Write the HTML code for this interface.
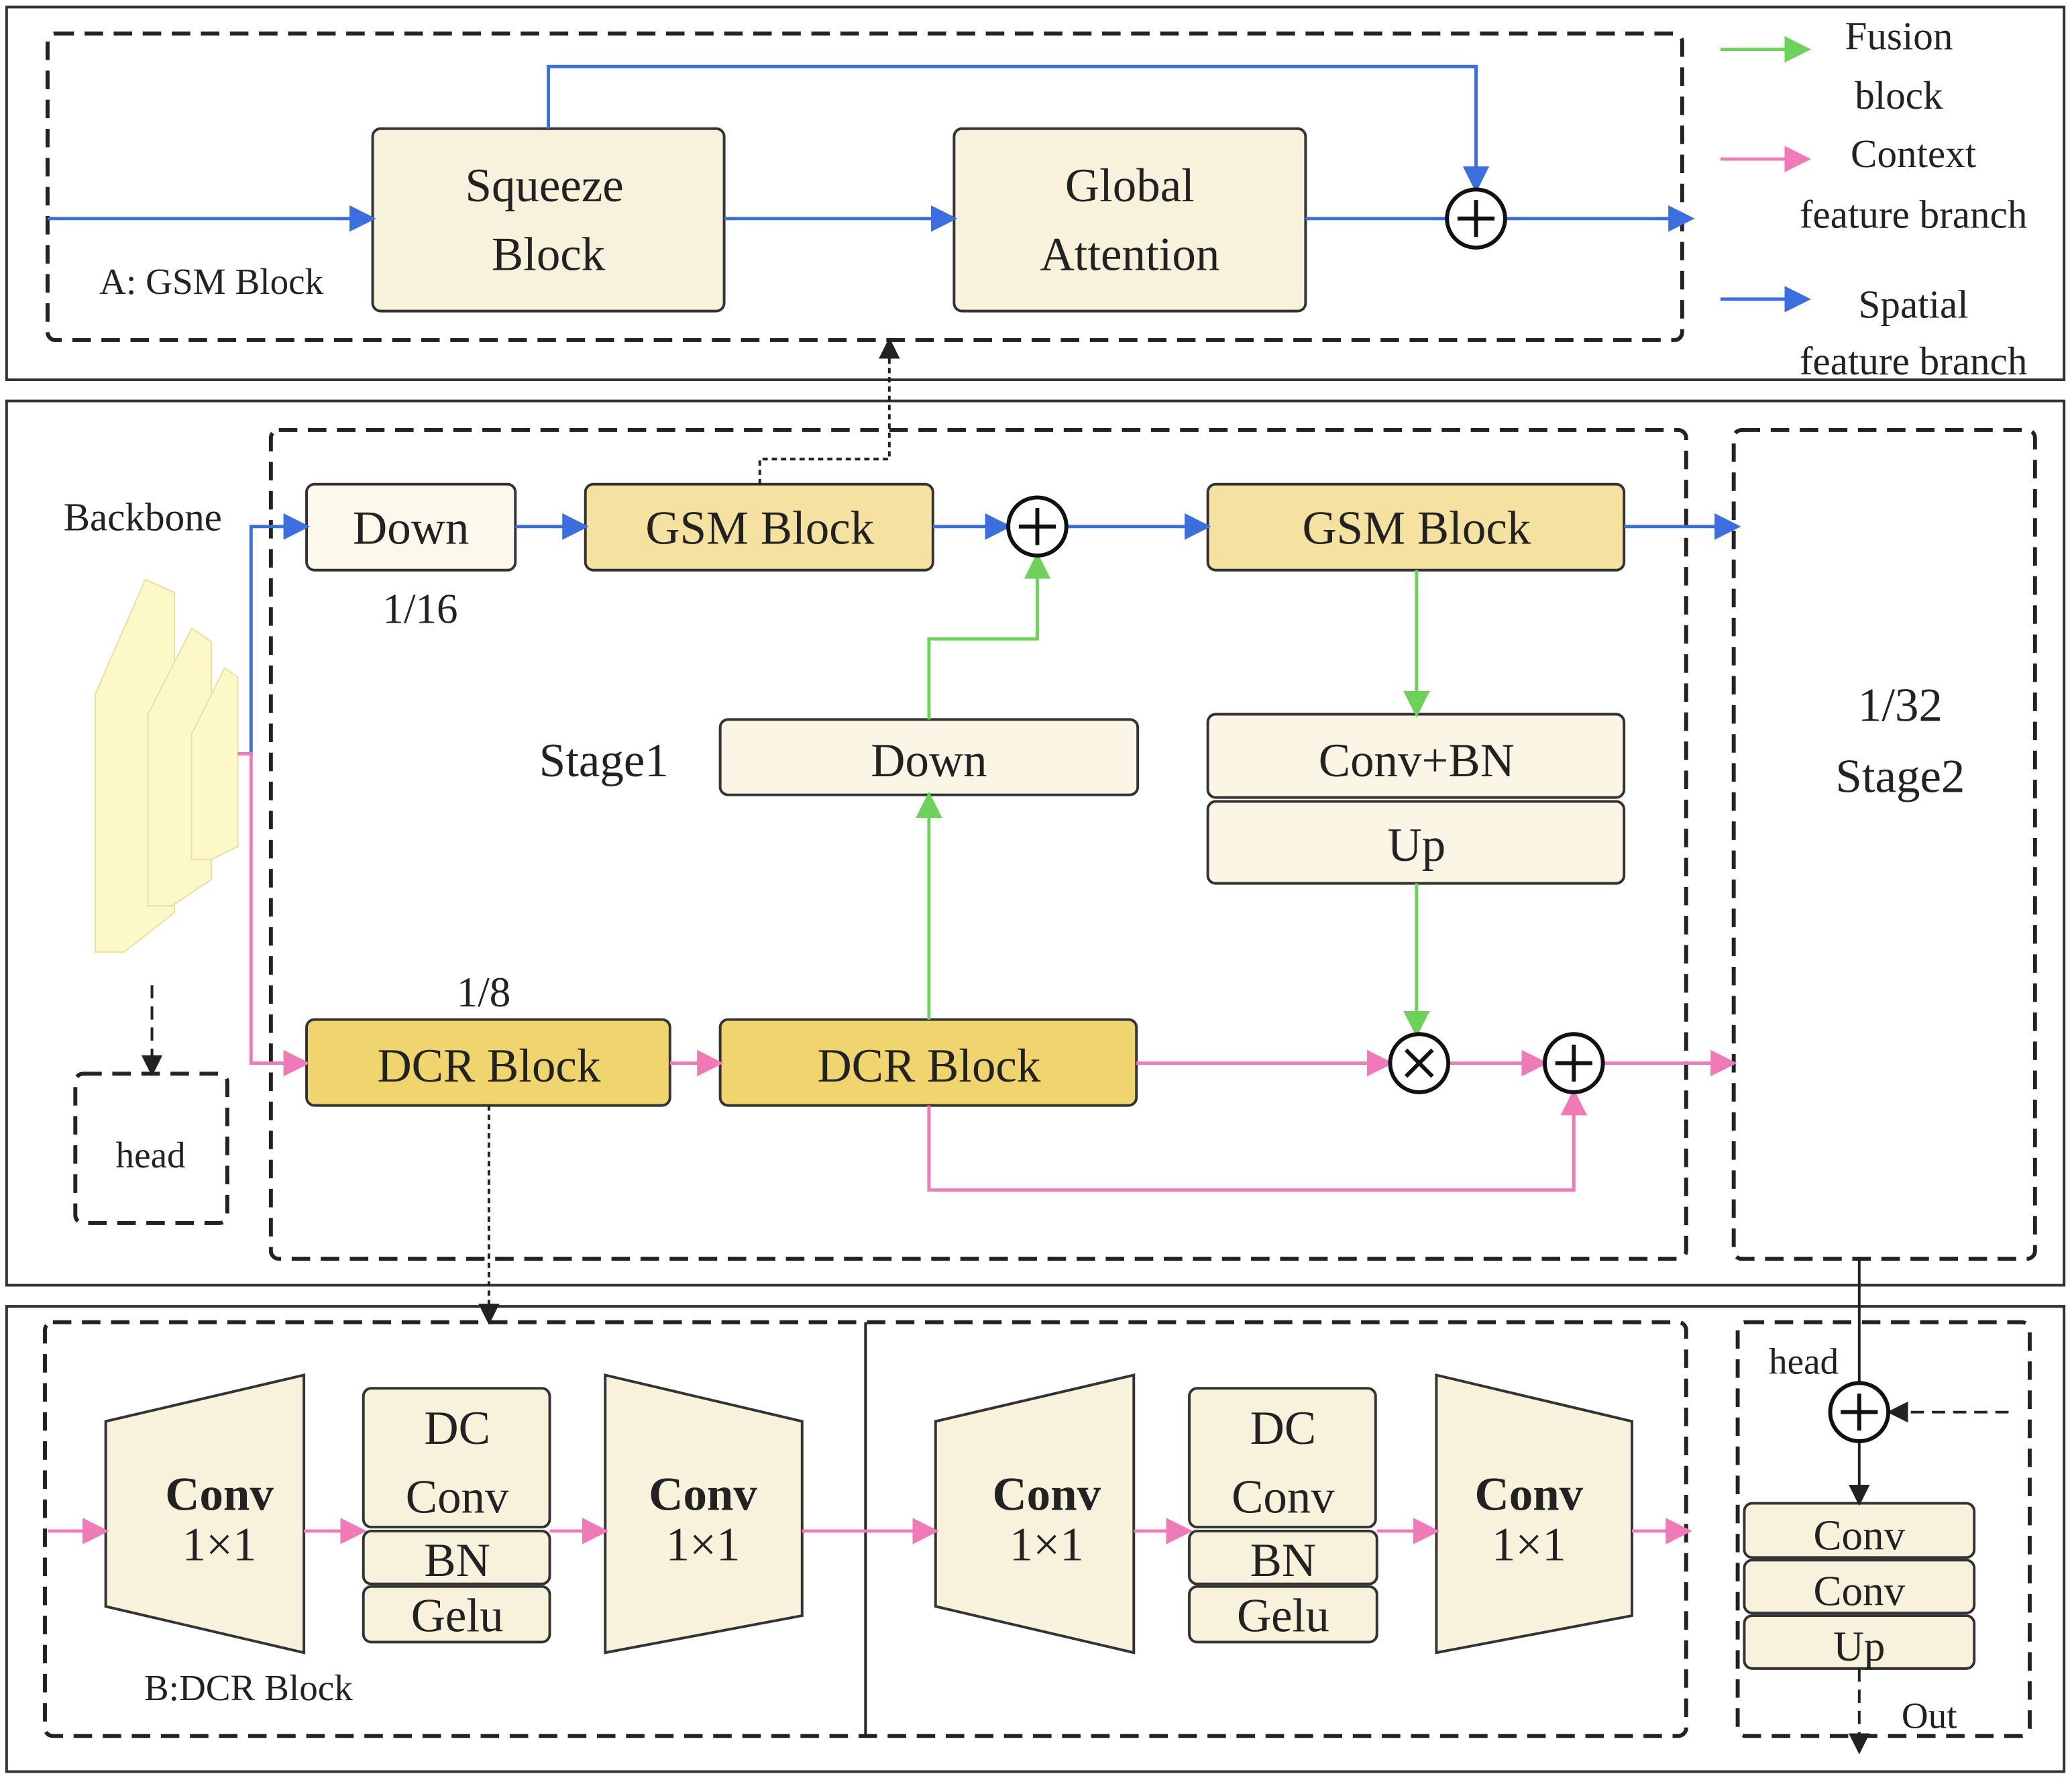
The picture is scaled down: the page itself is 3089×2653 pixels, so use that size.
<!DOCTYPE html>
<html><head><meta charset="utf-8"><style>html,body{margin:0;padding:0;background:#fff}svg{display:block}</style></head><body>
<svg width="3089" height="2653" viewBox="0 0 1568 1346" xmlns="http://www.w3.org/2000/svg" font-family="Liberation Serif, serif" fill="none">
<defs>
<marker id="ab" markerWidth="8" markerHeight="8" refX="7" refY="4" orient="auto" viewBox="0 0 8 8"><path d="M0,0 L8,4 L0,8z" fill="#3b6fe0"/></marker>
<marker id="ap" markerWidth="8" markerHeight="8" refX="7" refY="4" orient="auto" viewBox="0 0 8 8"><path d="M0,0 L8,4 L0,8z" fill="#f07ab8"/></marker>
<marker id="ag" markerWidth="8" markerHeight="8" refX="7" refY="4" orient="auto" viewBox="0 0 8 8"><path d="M0,0 L8,4 L0,8z" fill="#6cd25a"/></marker>
<marker id="ak" markerWidth="8" markerHeight="8" refX="7" refY="4" orient="auto" viewBox="0 0 8 8"><path d="M0,0 L8,4 L0,8z" fill="#222"/></marker>
</defs>
<g stroke="#333" stroke-width="2">
<rect x="5" y="5" width="1557" height="282"/>
<rect x="5" y="303" width="1557" height="669"/>
<rect x="5" y="988" width="1557" height="352"/>
</g>
<g stroke="#222" stroke-width="3" stroke-dasharray="14,8">
<rect x="36" y="25" width="1237" height="232" rx="6"/>
<rect x="205" y="325" width="1071" height="627" rx="6"/>
<rect x="1312" y="325" width="228" height="627" rx="6"/>
<rect x="57" y="812" width="115" height="113" rx="6"/>
<rect x="34" y="1000" width="1242" height="313" rx="6"/>
<rect x="1315" y="1000" width="221" height="313" rx="6"/>
</g>
<line x1="655" y1="1000" x2="655" y2="1313" stroke="#222" stroke-width="2"/>
<g stroke="#333" stroke-width="2">
<rect x="282" y="97" width="266" height="138" rx="6" fill="#f8f2dc"/>
<rect x="722" y="97" width="266" height="138" rx="6" fill="#f8f2dc"/>
<rect x="232" y="366" width="158" height="65" rx="6" fill="#fcf8ec"/>
<rect x="443" y="366" width="263" height="65" rx="6" fill="#f5e1a0"/>
<rect x="914" y="366" width="315" height="65" rx="6" fill="#f5e1a0"/>
<rect x="545" y="544" width="316" height="57" rx="6" fill="#faf5e4"/>
<rect x="914" y="540" width="315" height="63" rx="6" fill="#faf5e4"/>
<rect x="914" y="606" width="315" height="62" rx="6" fill="#faf5e4"/>
<rect x="232" y="771" width="275" height="65" rx="6" fill="#f0d46e"/>
<rect x="545" y="771" width="315" height="65" rx="6" fill="#f0d46e"/>
<path d="M80,1075 L230,1040 L230,1250 L80,1215Z" fill="#f8f2dc"/>
<path d="M458,1040 L607,1075 L607,1222 L458,1250Z" fill="#f8f2dc"/>
<path d="M708,1075 L858,1040 L858,1250 L708,1215Z" fill="#f8f2dc"/>
<path d="M1087,1040 L1235,1075 L1235,1222 L1087,1250Z" fill="#f8f2dc"/>
<rect x="275" y="1050" width="141" height="105" rx="6" fill="#f8f2dc"/>
<rect x="275" y="1158" width="141" height="40" rx="6" fill="#f8f2dc"/>
<rect x="275" y="1200" width="141" height="42" rx="6" fill="#f8f2dc"/>
<rect x="900" y="1050" width="141" height="105" rx="6" fill="#f8f2dc"/>
<rect x="900" y="1158" width="142" height="40" rx="6" fill="#f8f2dc"/>
<rect x="900" y="1200" width="142" height="42" rx="6" fill="#f8f2dc"/>
<rect x="1320" y="1137" width="174" height="41" rx="6" fill="#f8f2dc"/>
<rect x="1320" y="1180" width="174" height="40" rx="6" fill="#f8f2dc"/>
<rect x="1320" y="1222" width="174" height="40" rx="6" fill="#f8f2dc"/>
</g>
<g fill="#fdf8c8" stroke="#e8e0a0" stroke-width="1">
<path d="M72,525 L110,438 L132,448 L132,690 L94,720 L72,720Z"/>
<path d="M112,540 L145,475 L160,485 L160,665 L130,685 L112,685Z"/>
<path d="M145,555 L170,505 L180,512 L180,640 L160,650 L145,650Z"/>
</g>
<g stroke="#3b6fe0" stroke-width="2.5" marker-end="url(#ab)">
<line x1="36" y1="165" x2="282" y2="165"/>
<line x1="548" y1="165" x2="722" y2="165"/>
<line x1="988" y1="165" x2="1095" y2="165" marker-end="none"/>
<line x1="1139" y1="165" x2="1280" y2="165"/>
<polyline points="415,97 415,50 1117,50 1117,143"/>
<polyline points="180,570 190,570 190,398 232,398"/>
<line x1="390" y1="398" x2="443" y2="398"/>
<line x1="706" y1="398" x2="763" y2="398"/>
<line x1="807" y1="398" x2="914" y2="398"/>
<line x1="1229" y1="398" x2="1315" y2="398"/>
<line x1="1302" y1="226" x2="1368" y2="226"/>
</g>
<g stroke="#f07ab8" stroke-width="2.5" marker-end="url(#ap)">
<polyline points="180,570 190,570 190,804 232,804"/>
<line x1="507" y1="804" x2="545" y2="804"/>
<line x1="860" y1="804" x2="1052" y2="804"/>
<line x1="1096" y1="804" x2="1169" y2="804"/>
<line x1="1213" y1="804" x2="1312" y2="804"/>
<polyline points="703,836 703,900 1191,900 1191,826"/>
<line x1="1302" y1="120" x2="1368" y2="120"/>
<line x1="36" y1="1158" x2="80" y2="1158"/>
<line x1="230" y1="1158" x2="275" y2="1158"/>
<line x1="416" y1="1158" x2="458" y2="1158"/>
<line x1="607" y1="1158" x2="708" y2="1158"/>
<line x1="858" y1="1158" x2="900" y2="1158"/>
<line x1="1042" y1="1158" x2="1087" y2="1158"/>
<line x1="1235" y1="1158" x2="1278" y2="1158"/>
</g>
<g stroke="#6cd25a" stroke-width="2.5" marker-end="url(#ag)">
<line x1="703" y1="771" x2="703" y2="601"/>
<polyline points="703,544 703,483 785,483 785,420"/>
<line x1="1072" y1="431" x2="1072" y2="540"/>
<line x1="1072" y1="668" x2="1072" y2="782"/>
<line x1="1302" y1="37" x2="1368" y2="37"/>
</g>
<g stroke="#222" stroke-width="2" marker-end="url(#ak)">
<polyline points="575,366 575,347 673,347 673,257" stroke-dasharray="4,3"/>
<polyline points="370,836 370,1000" stroke-dasharray="4,3"/>
<line x1="115" y1="745" x2="115" y2="812" stroke-dasharray="10,6"/>
<line x1="1520" y1="1068" x2="1430" y2="1068" stroke-dasharray="10,6"/>
<line x1="1407" y1="952" x2="1407" y2="1046" marker-end="none"/>
<line x1="1407" y1="1090" x2="1407" y2="1137"/>
<line x1="1407" y1="1262" x2="1407" y2="1325" stroke-dasharray="10,6"/>
</g>
<g stroke="#111" stroke-width="3" fill="#fff">
<circle cx="1117" cy="165" r="22"/><circle cx="785" cy="398" r="22"/>
<circle cx="1074" cy="804" r="22"/><circle cx="1191" cy="804" r="22"/>
<circle cx="1407" cy="1068" r="22"/>
</g>
<g stroke="#111" stroke-width="3">
<path d="M1103,165h28M1117,151v28M771,398h28M785,384v28M1177,804h28M1191,790v28M1393,1068h28M1407,1054v28M1064,794l20,20M1084,794l-20,20"/>
</g>
<g fill="#222" font-size="36" text-anchor="middle">
<text x="412" y="152">Squeeze</text><text x="415" y="204">Block</text>
<text x="855" y="152">Global</text><text x="855" y="204">Attention</text>
<text x="311" y="411">Down</text><text x="575" y="411">GSM Block</text><text x="1072" y="411">GSM Block</text>
<text x="703" y="587">Down</text><text x="1072" y="587">Conv+BN</text><text x="1072" y="651">Up</text>
<text x="370" y="818">DCR Block</text><text x="703" y="818">DCR Block</text>
<text x="318" y="471" font-size="32">1/16</text><text x="366" y="761" font-size="32">1/8</text>
<text x="457" y="587">Stage1</text>
<text x="1438" y="545">1/32</text><text x="1438" y="599">Stage2</text>
<text x="108" y="401" font-size="30">Backbone</text>
<text x="114" y="883" font-size="28">head</text>
<text x="166" y="1142" font-weight="bold">Conv</text><text x="166" y="1180">1×1</text>
<text x="532" y="1142" font-weight="bold">Conv</text><text x="532" y="1180">1×1</text>
<text x="792" y="1142" font-weight="bold">Conv</text><text x="792" y="1180">1×1</text>
<text x="1157" y="1142" font-weight="bold">Conv</text><text x="1157" y="1180">1×1</text>
<text x="346" y="1092">DC</text><text x="346" y="1144">Conv</text>
<text x="346" y="1192">BN</text><text x="346" y="1234">Gelu</text>
<text x="971" y="1092">DC</text><text x="971" y="1144">Conv</text>
<text x="971" y="1192">BN</text><text x="971" y="1234">Gelu</text>
<text x="1407" y="1172" font-size="32">Conv</text><text x="1407" y="1214" font-size="32">Conv</text><text x="1407" y="1256" font-size="32">Up</text>
<text x="1365" y="1039" font-size="28">head</text><text x="1460" y="1307" font-size="28">Out</text>
<text x="1437" y="37" font-size="30">Fusion</text><text x="1437" y="82" font-size="30">block</text>
<text x="1448" y="126" font-size="30">Context</text><text x="1448" y="172" font-size="30">feature branch</text>
<text x="1448" y="240" font-size="30">Spatial</text><text x="1448" y="283" font-size="30">feature branch</text>
<text x="160" y="222" font-size="28">A: GSM Block</text>
<text x="188" y="1286" font-size="28">B:DCR Block</text>
</g>
</svg>
</body></html>
